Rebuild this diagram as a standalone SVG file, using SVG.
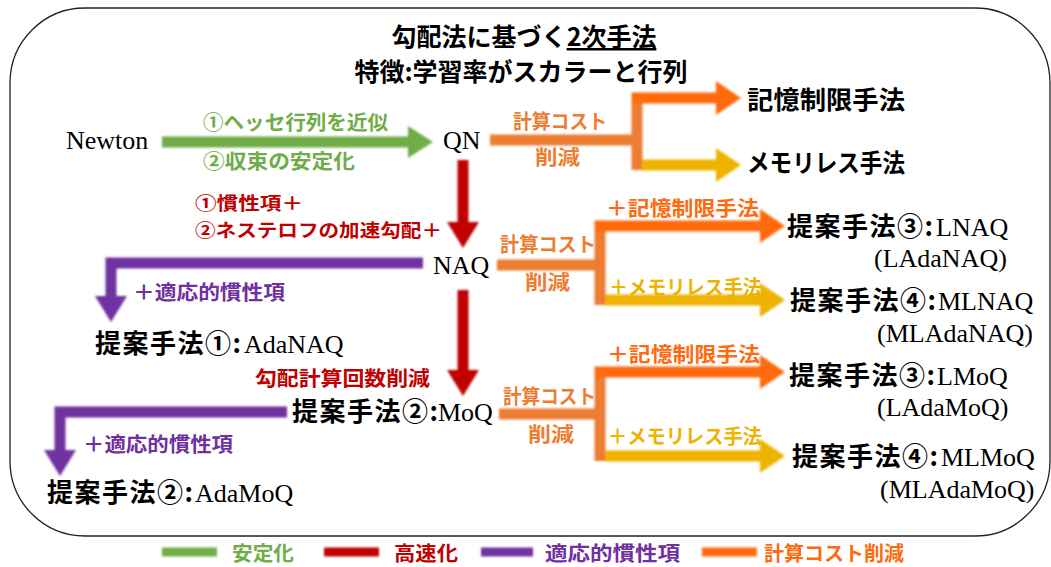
<svg xmlns="http://www.w3.org/2000/svg" width="1051" height="567" viewBox="0 0 1051 567">
<style>
.cj{font-family:"Noto Sans CJK JP","Noto Sans",sans-serif;font-weight:bold}
.ser{font-family:"Liberation Serif","Times New Roman",serif;font-weight:normal;font-size:26px;fill:#000}
.nb{font-size:26px;letter-spacing:1.5px;fill:#000}
.lab{font-size:20px}
.lab2{font-size:18.5px}
.g{fill:#70AD47}.r{fill:#C00000}.p{fill:#7030A0}.o{fill:#ED7D31}.o2{fill:#FF6A10}.y{fill:#EDB300}
.k{fill:#000}
.line{fill:none;stroke-width:11}
</style>
<defs>
<filter id="soft" filterUnits="userSpaceOnUse" x="0" y="0" width="1051" height="567"><feGaussianBlur stdDeviation="0.8"/></filter>
<marker id="hg" markerUnits="userSpaceOnUse" markerWidth="26" markerHeight="34" refX="0" refY="16" orient="auto" overflow="visible"><path d="M0,0 L25,16 L0,32 z" fill="#70AD47"/></marker>
<marker id="hr" markerUnits="userSpaceOnUse" markerWidth="26" markerHeight="34" refX="0" refY="16" orient="auto" overflow="visible"><path d="M0,0 L26,16 L0,32 z" fill="#C00000"/></marker>
<marker id="hp" markerUnits="userSpaceOnUse" markerWidth="26" markerHeight="34" refX="0" refY="16" orient="auto" overflow="visible"><path d="M0,0 L26,16 L0,32 z" fill="#7030A0"/></marker>
<marker id="ho" markerUnits="userSpaceOnUse" markerWidth="26" markerHeight="34" refX="0" refY="17" orient="auto" overflow="visible"><path d="M0,0 L25,17 L0,34 z" fill="#FF6A10"/></marker>
<marker id="hy" markerUnits="userSpaceOnUse" markerWidth="26" markerHeight="34" refX="0" refY="17" orient="auto" overflow="visible"><path d="M0,0 L25,17 L0,34 z" fill="#EDB300"/></marker>
</defs>
<rect x="0" y="0" width="1051" height="567" fill="#fff"/>
<rect id="frame" x="10" y="8" width="1040" height="528" rx="75" ry="75" fill="none" stroke="#222" stroke-width="1.3"/>

<g id="title">
<text class="cj k" x="524" y="46" font-size="25" text-anchor="middle">勾配法に基づく<tspan text-decoration="underline">2次手法</tspan></text>
<text class="cj k" x="521" y="81" font-size="25" text-anchor="middle">特徴:学習率がスカラーと行列</text>
</g>

<g id="connectors" filter="url(#soft)">
<path class="line" stroke="#70AD47" d="M162,142 H408" marker-end="url(#hg)"/>
<path class="line" stroke="#ED7D31" d="M490,140 H637 M637,93 V170"/>
<path class="line" stroke="#FF6A10" d="M632,98 H716" marker-end="url(#ho)"/>
<path class="line" stroke="#EDB300" d="M642,165 H716" marker-end="url(#hy)"/>
<path class="line" stroke="#C00000" d="M463,160 V222" marker-end="url(#hr)"/>
<path class="line" stroke="#C00000" d="M463,290 V370" marker-end="url(#hr)"/>
<path class="line" stroke="#7030A0" d="M423,263 H111 V296" marker-end="url(#hp)"/>
<path class="line" stroke="#7030A0" d="M287,412 H60 V450" marker-end="url(#hp)"/>
<path class="line" stroke="#ED7D31" d="M497,265 H600 M600,221 V305"/>
<path class="line" stroke="#FF6A10" d="M595,226 H760" marker-end="url(#ho)"/>
<path class="line" stroke="#EDB300" d="M605,300 H760" marker-end="url(#hy)"/>
<path class="line" stroke="#ED7D31" d="M499,414 H600 M600,367 V461"/>
<path class="line" stroke="#FF6A10" d="M595,372 H760" marker-end="url(#ho)"/>
<path class="line" stroke="#EDB300" d="M605,456 H760" marker-end="url(#hy)"/>
</g>

<g id="edge-labels">
<text class="cj lab g" x="203" y="130" textLength="185" lengthAdjust="spacingAndGlyphs">①ヘッセ行列を近似</text>
<text class="cj lab g" x="203" y="169" textLength="152" lengthAdjust="spacingAndGlyphs">②収束の安定化</text>
<text class="cj lab o" x="513" y="129" textLength="94" lengthAdjust="spacingAndGlyphs">計算コスト</text>
<text class="cj lab o" x="535" y="165" textLength="45" lengthAdjust="spacingAndGlyphs">削減</text>
<text class="cj lab2 r" x="195" y="210" textLength="108" lengthAdjust="spacingAndGlyphs">①慣性項＋</text>
<text class="cj lab2 r" x="195" y="237" textLength="247" lengthAdjust="spacingAndGlyphs">②ネステロフの加速勾配＋</text>
<text class="cj lab p" x="133" y="300" textLength="152" lengthAdjust="spacingAndGlyphs">＋適応的慣性項</text>
<text class="cj lab r" x="255" y="386" textLength="175" lengthAdjust="spacingAndGlyphs">勾配計算回数削減</text>
<text class="cj lab o" x="500" y="252" textLength="96" lengthAdjust="spacingAndGlyphs">計算コスト</text>
<text class="cj lab o" x="525" y="290" textLength="45" lengthAdjust="spacingAndGlyphs">削減</text>
<text class="cj lab o2" x="606" y="216" textLength="153" lengthAdjust="spacingAndGlyphs">＋記憶制限手法</text>
<text class="cj lab y" x="609" y="295" textLength="153" lengthAdjust="spacingAndGlyphs">＋メモリレス手法</text>
<text class="cj lab p" x="83" y="452" textLength="150" lengthAdjust="spacingAndGlyphs">＋適応的慣性項</text>
<text class="cj lab o" x="503" y="404" textLength="93" lengthAdjust="spacingAndGlyphs">計算コスト</text>
<text class="cj lab o" x="528" y="442" textLength="46" lengthAdjust="spacingAndGlyphs">削減</text>
<text class="cj lab o2" x="607" y="362" textLength="153" lengthAdjust="spacingAndGlyphs">＋記憶制限手法</text>
<text class="cj lab y" x="608" y="444" textLength="154" lengthAdjust="spacingAndGlyphs">＋メモリレス手法</text>
</g>

<g id="newton"><text class="ser" x="66" y="149">Newton</text></g>
<g id="qn"><text class="ser" x="443" y="149">QN</text></g>
<g id="limited-memory"><text class="cj k" x="747" y="109" font-size="25" textLength="158" lengthAdjust="spacingAndGlyphs">記憶制限手法</text></g>
<g id="memoryless"><text class="cj k" x="747" y="172" font-size="25" textLength="158" lengthAdjust="spacingAndGlyphs">メモリレス手法</text></g>
<g id="naq"><text class="ser" x="433" y="274">NAQ</text></g>
<g id="adanaq"><text x="95" y="353"><tspan class="cj nb">提案手法①:</tspan><tspan class="ser" x="244">AdaNAQ</tspan></text></g>
<g id="lnaq">
<text x="787" y="236"><tspan class="cj nb">提案手法③:</tspan><tspan class="ser" x="936">LNAQ</tspan></text>
<text class="ser" x="874" y="267">(LAdaNAQ)</text>
</g>
<g id="mlnaq">
<text x="790" y="310"><tspan class="cj nb">提案手法④:</tspan><tspan class="ser" x="938">MLNAQ</tspan></text>
<text class="ser" x="877" y="342">(MLAdaNAQ)</text>
</g>
<g id="moq"><text x="292" y="421"><tspan class="cj nb">提案手法②:</tspan><tspan class="ser" x="438">MoQ</tspan></text></g>
<g id="adamoq"><text x="47" y="502"><tspan class="cj nb">提案手法②:</tspan><tspan class="ser" x="195">AdaMoQ</tspan></text></g>
<g id="lmoq">
<text x="789" y="385"><tspan class="cj nb">提案手法③:</tspan><tspan class="ser" x="937">LMoQ</tspan></text>
<text class="ser" x="877" y="416">(LAdaMoQ)</text>
</g>
<g id="mlmoq">
<text x="792" y="466"><tspan class="cj nb">提案手法④:</tspan><tspan class="ser" x="941">MLMoQ</tspan></text>
<text class="ser" x="880" y="498">(MLAdaMoQ)</text>
</g>

<g id="legend">
<g filter="url(#soft)">
<path d="M162,552 H217" stroke="#70AD47" stroke-width="9"/>
<path d="M324,552 H379" stroke="#C00000" stroke-width="9"/>
<path d="M481,552 H533" stroke="#7030A0" stroke-width="9"/>
<path d="M702,552 H757" stroke="#FF6A10" stroke-width="9"/>
</g>
<text class="cj g" x="232" y="561" font-size="20" textLength="62" lengthAdjust="spacingAndGlyphs">安定化</text>
<text class="cj r" x="394" y="561" font-size="20" textLength="64" lengthAdjust="spacingAndGlyphs">高速化</text>
<text class="cj p" x="545" y="561" font-size="20" textLength="135" lengthAdjust="spacingAndGlyphs">適応的慣性項</text>
<text class="cj o2" x="764" y="561" font-size="20" textLength="140" lengthAdjust="spacingAndGlyphs">計算コスト削減</text>
</g>
</svg>
